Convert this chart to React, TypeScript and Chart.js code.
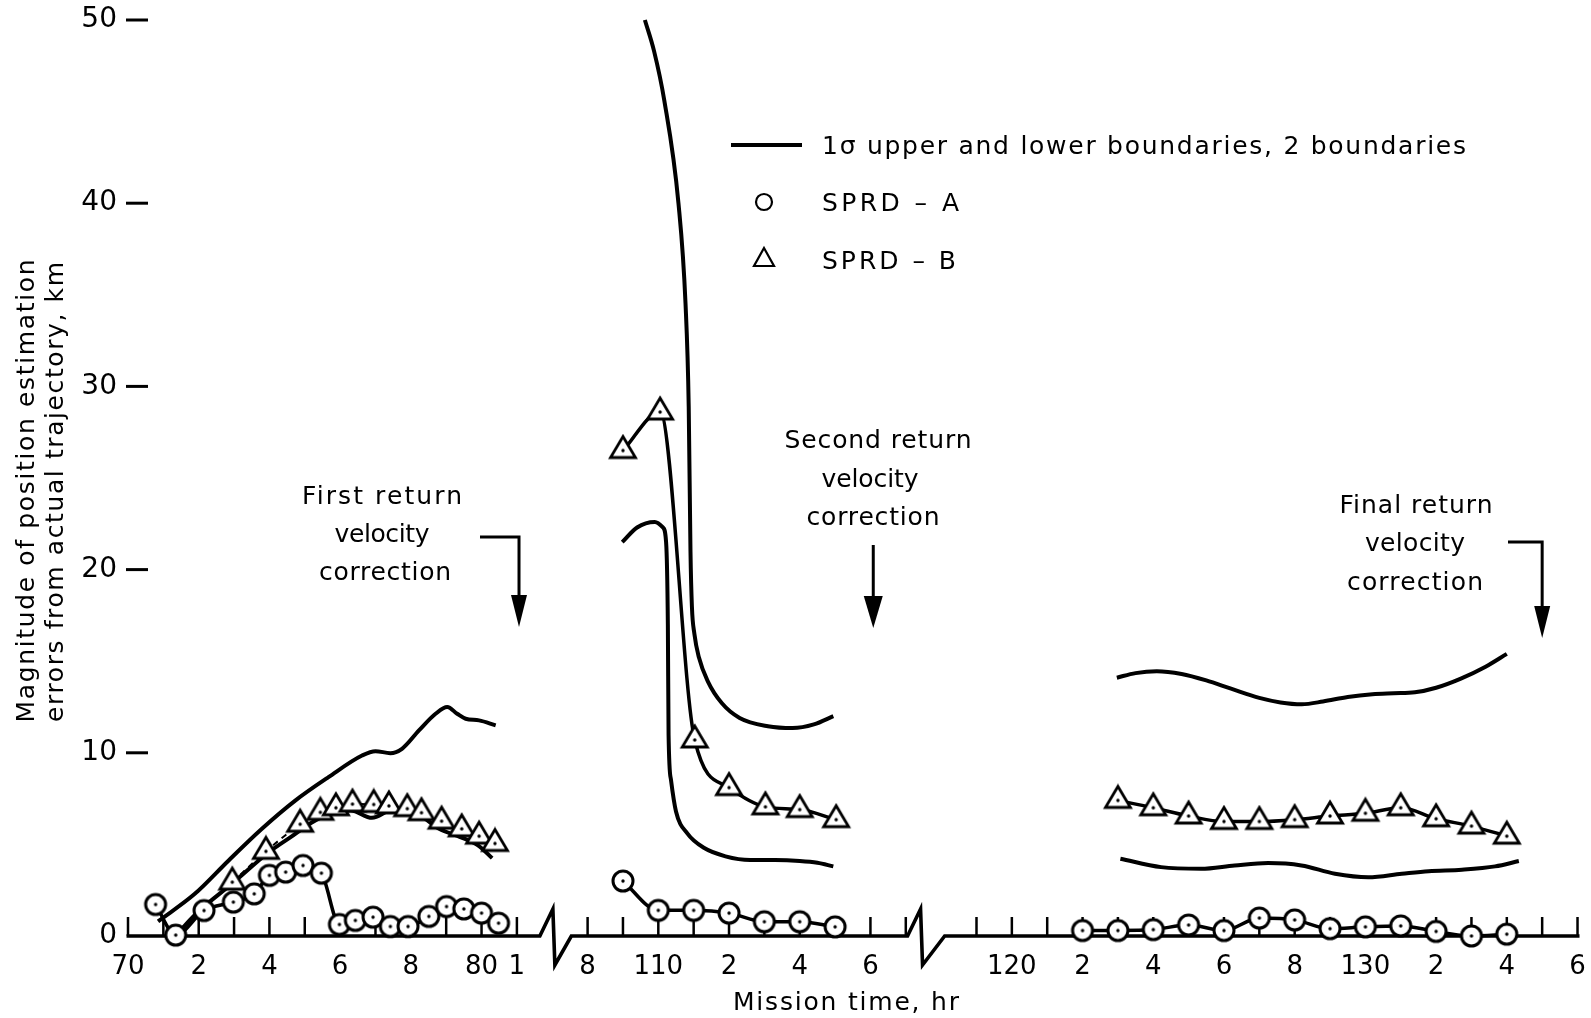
import React, { useEffect, useRef } from 'react';
import { Chart, registerables } from 'chart.js';

Chart.register(...registerables);

const FONT = '"DejaVu Sans", "Liberation Sans", sans-serif';

// ---------- axis ticks ----------
const TICK_HOURS = [
  70, 71, 72, 73, 74, 75, 76, 77, 78, 79, 80, 81,
  108, 109, 110, 111, 112, 113, 114, 115, 116, 117,
  119, 120, 121, 122, 123, 124, 125, 126, 127, 128, 129, 130, 131, 132, 133, 134, 135, 136,
];
const LABEL_HOURS = [70, 72, 74, 76, 78, 80, 81, 108, 110, 112, 114, 116, 120, 122, 124, 126, 128, 130, 132, 134, 136];
const LABEL_TEXT = ['70', '2', '4', '6', '8', '80', '1', '8', '110', '2', '4', '6', '120', '2', '4', '6', '8', '130', '2', '4', '6'];
const Y_TICKS = [10, 20, 30, 40, 50];
const BREAK_1 = [81.65, 107.54];
const BREAK_2 = [117.05, 118.1];
const CORRECTION_HOURS = [81.06, 116.08, 135.0];

// ---------- SPRD-A (circles) ----------
const A1_HOURS = [70.78, 71.35, 72.15, 72.98, 73.57, 74.0, 74.46, 74.95, 75.47, 75.98, 76.43, 76.93, 77.42, 77.92, 78.51, 79.01, 79.5, 80.0, 80.48];
const A1_KM = [1.72, 0.05, 1.39, 1.85, 2.3, 3.31, 3.49, 3.85, 3.43, 0.63, 0.85, 1.03, 0.52, 0.52, 1.07, 1.61, 1.48, 1.25, 0.7];
const A2_HOURS = [109, 110, 111, 112, 113, 114, 115];
const A2_KM = [3.0, 1.4, 1.4, 1.25, 0.78, 0.78, 0.5];
const A3_HOURS = [122, 123, 124, 125, 126, 127, 128, 129, 130, 131, 132, 133, 134];
const A3_KM = [0.3, 0.3, 0.35, 0.6, 0.3, 0.98, 0.88, 0.4, 0.5, 0.55, 0.25, 0.0, 0.1];

// ---------- SPRD-B (triangles) ----------
const B1_HOURS = [72.95, 73.9, 74.87, 75.44, 75.88, 76.35, 76.95, 77.38, 77.9, 78.3, 78.87, 79.44, 79.93, 80.38];
const B1_KM = [2.94, 4.62, 6.1, 6.75, 7.0, 7.2, 7.18, 7.1, 6.95, 6.73, 6.27, 5.85, 5.45, 5.05];
const B2_HOURS = [109, 110.05, 111.03, 112, 113.03, 114, 115.03];
const B2_KM = [26.5, 28.6, 10.7, 8.1, 7.05, 6.9, 6.35];
const B3_HOURS = [123, 124, 125, 126, 127, 128, 129, 130, 131, 132, 133, 134];
const B3_KM = [7.4, 7.0, 6.55, 6.25, 6.25, 6.35, 6.55, 6.7, 7.0, 6.4, 6.0, 5.45];

// ---------- 1-sigma upper boundary ----------
const U1_HOURS = [70.85, 71.89, 72.84, 73.78, 74.73, 75.67, 76.62, 77.0, 77.42, 77.75, 78.23, 78.7, 79.03, 79.31, 79.55, 79.93, 80.4];
const U1_KM = [0.8, 2.3, 4.11, 5.84, 7.39, 8.67, 9.85, 10.09, 9.98, 10.22, 11.22, 12.13, 12.5, 12.13, 11.86, 11.77, 11.5];
const U2_HOURS = [109.62, 109.88, 110.17, 110.57, 110.77, 110.86, 110.91, 110.95, 111.02, 111.15, 111.4, 111.8, 112.3, 113.1, 113.8, 114.4, 114.95];
const U2_KM = [50, 48.3, 45.6, 40.0, 34.5, 28.9, 21, 18, 16.5, 15.2, 13.9, 12.7, 11.9, 11.45, 11.35, 11.55, 12.0];
const U3_HOURS = [122.97, 123.5, 124.1, 124.8, 125.5, 126.2, 127.0, 127.6, 128.2, 128.8, 129.5, 130.2, 130.8, 131.4, 132.0, 132.7, 133.4, 134.0];
const U3_KM = [14.1, 14.35, 14.45, 14.3, 13.95, 13.5, 13.0, 12.75, 12.65, 12.8, 13.05, 13.2, 13.25, 13.3, 13.55, 14.05, 14.7, 15.4];

// ---------- 1-sigma lower boundary ----------
const L1_HOURS = [71.4, 72.0, 73.0, 74.0, 74.6, 75.2, 75.7, 76.3, 76.9, 77.5, 78.2, 78.8, 79.4, 79.9, 80.3];
const L1_KM = [0.15, 1.35, 2.95, 4.6, 5.4, 6.2, 6.65, 6.85, 6.45, 6.9, 6.65, 5.85, 5.4, 4.95, 4.25];
const L2_HOURS = [108.98, 109.4, 109.9, 110.13, 110.22, 110.27, 110.29, 110.36, 110.5, 110.82, 111.3, 111.9, 112.6, 113.3, 114.0, 114.5, 114.95];
const L2_KM = [21.5, 22.3, 22.6, 22.3, 21.5, 17, 11, 8.5, 6.8, 5.6, 4.8, 4.35, 4.15, 4.15, 4.1, 4.0, 3.8];
const L3_HOURS = [123.07, 124.22, 125.35, 126.3, 127.25, 128.19, 129.14, 130.08, 131.03, 131.79, 132.73, 133.67, 134.34];
const L3_KM = [4.22, 3.76, 3.67, 3.85, 3.98, 3.85, 3.4, 3.21, 3.4, 3.54, 3.62, 3.8, 4.09];

// broken time axis: hours 70-81 and 108-136 share one linear scale
function toAxis(h: number): number {
  return h < 95 ? h - 70 : h - 95;
}

function buildSeries(segments: [number[], number[]][]) {
  const pts: { x: number; y: number | null }[] = [];
  segments.forEach(([hs, vs], i) => {
    if (i > 0) pts.push({ x: toAxis(hs[0]) - 0.01, y: null });
    hs.forEach((h, j) => pts.push({ x: toAxis(h), y: vs[j] }));
  });
  return pts;
}

function makeCircle() {
  const c = document.createElement('canvas');
  c.width = 28;
  c.height = 28;
  const g = c.getContext('2d')!;
  g.beginPath();
  g.arc(14, 14, 10, 0, Math.PI * 2);
  g.fillStyle = '#fff';
  g.fill();
  g.lineWidth = 3;
  g.strokeStyle = '#000';
  g.stroke();
  g.beginPath();
  g.arc(14, 14, 1.7, 0, Math.PI * 2);
  g.fillStyle = '#000';
  g.fill();
  return c;
}

function makeTriangle() {
  const c = document.createElement('canvas');
  c.width = 34;
  c.height = 34;
  const g = c.getContext('2d')!;
  const cx = 17, cy = 17, H = 21, hw = 12.5;
  g.beginPath();
  g.moveTo(cx, cy - (2 * H) / 3);
  g.lineTo(cx + hw, cy + H / 3);
  g.lineTo(cx - hw, cy + H / 3);
  g.closePath();
  g.fillStyle = '#fff';
  g.fill();
  g.lineWidth = 2.8;
  g.lineJoin = 'miter';
  g.strokeStyle = '#000';
  g.stroke();
  g.beginPath();
  g.arc(cx, cy, 1.7, 0, Math.PI * 2);
  g.fillStyle = '#000';
  g.fill();
  return c;
}

function fitText(ctx: any, text: string, x: number, y: number, width: number, align: 'left' | 'center', size = 25) {
  ctx.font = `${size}px ${FONT}`;
  ctx.letterSpacing = '0px';
  const w = ctx.measureText(text).width;
  const n = Array.from(text).length;
  const ls = n > 1 ? (width - w) / (n - 1) : 0;
  ctx.letterSpacing = `${ls}px`;
  ctx.textAlign = 'left';
  const left = align === 'center' ? x - width / 2 : x;
  ctx.fillText(text, left, y);
  ctx.letterSpacing = '0px';
}

const paperPlugin = {
  id: 'paper',
  beforeDatasetsDraw(chart: any) {
    const { ctx } = chart;
    const xs = chart.scales.x;
    const ys = chart.scales.y;
    const X = (h: number) => xs.getPixelForValue(toAxis(h));
    const y0 = ys.getPixelForValue(0);
    ctx.save();
    ctx.strokeStyle = '#000';
    ctx.lineCap = 'butt';
    ctx.lineWidth = 2.5;
    TICK_HOURS.forEach((h) => {
      const x = X(h);
      ctx.beginPath();
      ctx.moveTo(x, y0);
      ctx.lineTo(x, y0 - 19);
      ctx.stroke();
    });
    ctx.lineWidth = 3.6;
    ctx.lineJoin = 'miter';
    ctx.beginPath();
    ctx.moveTo(X(70) - 1.5, y0);
    const zig = (a: number, b: number) => {
      const xa = X(a);
      const xb = X(b);
      ctx.lineTo(xa, y0);
      ctx.lineTo(xa + 13, y0 - 27);
      ctx.lineTo(xa + 15, y0 + 29);
      ctx.lineTo(xb, y0);
    };
    zig(BREAK_1[0], BREAK_1[1]);
    zig(BREAK_2[0], BREAK_2[1]);
    ctx.lineTo(X(136) + 2, y0);
    ctx.stroke();
    ctx.lineWidth = 3;
    Y_TICKS.forEach((v) => {
      const y = ys.getPixelForValue(v);
      ctx.beginPath();
      ctx.moveTo(126, y);
      ctx.lineTo(148, y);
      ctx.stroke();
    });
    ctx.restore();
  },
  afterDraw(chart: any) {
    const { ctx } = chart;
    const xs = chart.scales.x;
    const X = (h: number) => xs.getPixelForValue(toAxis(h));
    ctx.save();
    ctx.fillStyle = '#000';
    ctx.strokeStyle = '#000';
    ctx.textBaseline = 'alphabetic';

    // annotations
    fitText(ctx, 'First return', 382, 504, 160, 'center');
    fitText(ctx, 'velocity', 382, 542, 95, 'center');
    fitText(ctx, 'correction', 385, 580, 132, 'center');
    fitText(ctx, 'Second return', 878, 448, 187, 'center');
    fitText(ctx, 'velocity', 870, 487, 97, 'center');
    fitText(ctx, 'correction', 873, 525, 133, 'center');
    fitText(ctx, 'Final return', 1416, 513, 153, 'center');
    fitText(ctx, 'velocity', 1415, 551, 100, 'center');
    fitText(ctx, 'correction', 1415, 590, 136, 'center');

    // arrows
    const arrow = (h: number, startX: number | null, top: number, tip: number, hw: number) => {
      const x = X(h);
      ctx.lineWidth = 3;
      ctx.beginPath();
      if (startX !== null) {
        ctx.moveTo(startX, top);
        ctx.lineTo(x, top);
      } else {
        ctx.moveTo(x, top);
      }
      ctx.lineTo(x, tip - 25);
      ctx.stroke();
      ctx.beginPath();
      ctx.moveTo(x - hw, tip - 32);
      ctx.lineTo(x + hw, tip - 32);
      ctx.lineTo(x, tip);
      ctx.closePath();
      ctx.fill();
    };
    arrow(CORRECTION_HOURS[0], 480, 537, 627, 8);
    arrow(CORRECTION_HOURS[1], null, 545, 628, 9.5);
    arrow(CORRECTION_HOURS[2], 1508, 542, 638, 8);

    // legend
    ctx.lineWidth = 3.8;
    ctx.beginPath();
    ctx.moveTo(731, 145);
    ctx.lineTo(802, 145);
    ctx.stroke();
    fitText(ctx, '1\u03c3 upper and lower boundaries, 2 boundaries', 822, 154, 644, 'left');
    ctx.lineWidth = 2.2;
    ctx.beginPath();
    ctx.arc(764, 202, 8, 0, Math.PI * 2);
    ctx.stroke();
    fitText(ctx, 'SPRD \u2013 A', 822, 211, 137, 'left');
    ctx.beginPath();
    ctx.moveTo(764, 248);
    ctx.lineTo(774, 266);
    ctx.lineTo(754, 266);
    ctx.closePath();
    ctx.stroke();
    fitText(ctx, 'SPRD \u2013 B', 822, 269, 134, 'left');

    // axis titles
    fitText(ctx, 'Mission time, hr', 846, 1010, 226, 'center');
    ctx.textBaseline = 'middle';
    const vTitle = (text: string, x: number, cy: number, w: number) => {
      ctx.save();
      ctx.translate(x, cy);
      ctx.rotate(-Math.PI / 2);
      fitText(ctx, text, 0, 0, w, 'center');
      ctx.restore();
    };
    vTitle('Magnitude of position estimation', 27.5, 491, 463);
    vTitle('errors from actual trajectory, km', 56, 492, 460);
    ctx.restore();
  },
};

export default function App() {
  const ref = useRef<HTMLCanvasElement>(null);
  useEffect(() => {
    document.body.style.margin = '0';
    const circle = makeCircle();
    const tri = makeTriangle();
    const chart = new Chart(ref.current as HTMLCanvasElement, {
      type: 'line',
      data: {
        datasets: [
          {
            label: 'SPRD-A',
            data: buildSeries([[A1_HOURS, A1_KM], [A2_HOURS, A2_KM], [A3_HOURS, A3_KM]]),
            borderColor: '#000',
            borderWidth: 3.5,
            pointStyle: circle as any,
            pointRadius: 11,
            spanGaps: false,
            clip: false as any,
            cubicInterpolationMode: 'monotone',
            fill: false,
          },
          {
            label: 'SPRD-B',
            data: buildSeries([[B1_HOURS, B1_KM], [B2_HOURS, B2_KM], [B3_HOURS, B3_KM]]),
            borderColor: '#000',
            borderWidth: 3.5,
            pointStyle: tri as any,
            pointRadius: 11,
            spanGaps: false,
            clip: false as any,
            cubicInterpolationMode: 'monotone',
            fill: false,
            segment: {
              borderDash: (c: any) => (c.p0.parsed.x < 12 ? [6, 5] : undefined),
              borderWidth: (c: any) => (c.p0.parsed.x < 12 ? 2 : 3.5),
            },
          },
          {
            label: '1\u03c3 upper',
            data: buildSeries([[U1_HOURS, U1_KM], [U2_HOURS, U2_KM], [U3_HOURS, U3_KM]]),
            borderColor: '#000',
            borderWidth: 4,
            pointRadius: 0,
            spanGaps: false,
            clip: false as any,
            cubicInterpolationMode: 'monotone',
            fill: false,
          },
          {
            label: '1\u03c3 lower',
            data: buildSeries([[L1_HOURS, L1_KM], [L2_HOURS, L2_KM], [L3_HOURS, L3_KM]]),
            borderColor: '#000',
            borderWidth: 4,
            pointRadius: 0,
            spanGaps: false,
            clip: false as any,
            cubicInterpolationMode: 'monotone',
            fill: false,
          },
        ],
      },
      options: {
        responsive: false,
        animation: false,
        devicePixelRatio: 1,
        layout: { autoPadding: false, padding: { top: 20, right: 5, left: 0, bottom: 0 } },
        plugins: {
          legend: { display: false },
          tooltip: { enabled: false },
        },
        events: [],
        scales: {
          x: {
            type: 'linear',
            min: 0,
            max: 41.24,
            grid: { display: false },
            border: { display: false },
            afterFit: (s: any) => {
              s.height = 82;
              s.paddingLeft = 0;
              s.paddingRight = 0;
            },
            afterBuildTicks: (s: any) => {
              s.ticks = LABEL_HOURS.map((h) => ({ value: toAxis(h) }));
            },
            ticks: {
              autoSkip: false,
              maxRotation: 0,
              minRotation: 0,
              padding: 8,
              color: '#000',
              font: { family: FONT, size: 26 },
              callback: (_v: any, i: number) => LABEL_TEXT[i],
            },
          },
          y: {
            min: 0,
            max: 50,
            grid: { display: false, drawTicks: false },
            border: { display: false },
            afterFit: (s: any) => {
              s.width = 128;
              s.paddingTop = 0;
              s.paddingBottom = 0;
            },
            ticks: {
              stepSize: 10,
              padding: 11,
              color: '#000',
              font: { family: FONT, size: 28 },
            },
          },
        },
      } as any,
      plugins: [paperPlugin],
    });
    return () => chart.destroy();
  }, []);
  return <canvas ref={ref} width={1591} height={1018} style={{ display: 'block', width: 1591, height: 1018 }} />;
}
